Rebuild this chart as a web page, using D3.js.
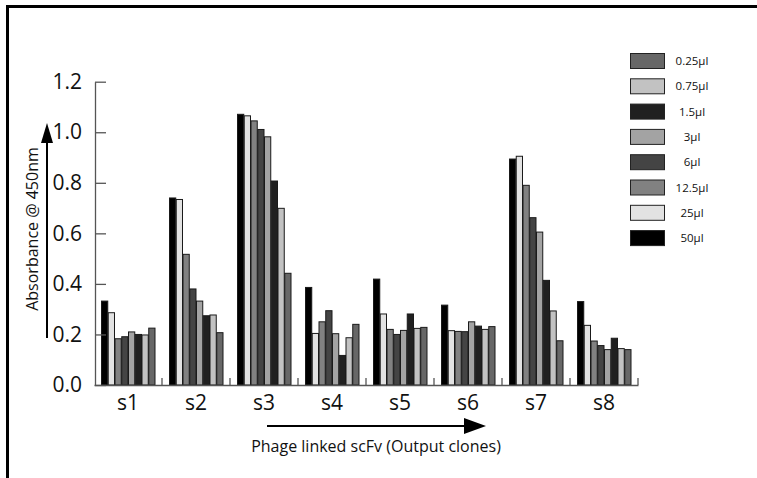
<!DOCTYPE html>
<html><head><meta charset="utf-8">
<script src="https://cdn.jsdelivr.net/npm/d3@7"></script>
<style>
body{margin:0;background:#fff;}
svg{display:block;font-family:"Open Sans","Noto Sans",sans-serif;}
</style></head>
<body>
<svg id="c" width="757" height="478"></svg>
<script>
const groups = ["s1","s2","s3","s4","s5","s6","s7","s8"];
const legendLabels = ["0.25µl","0.75µl","1.5µl","3µl","6µl","12.5µl","25µl","50µl"];
const legendColors = ["#676767","#c2c2c2","#202020","#a3a3a3","#444444","#818181","#e2e2e2","#000000"];
// values per series (s1..s8)
const v50   = [0.332,0.740,1.071,0.386,0.419,0.316,0.894,0.330];
const v25   = [0.286,0.734,1.065,0.204,0.281,0.215,0.905,0.236];
const v12_5 = [0.183,0.517,1.045,0.250,0.220,0.212,0.790,0.174];
const v6    = [0.191,0.380,1.011,0.294,0.200,0.211,0.662,0.156];
const v3    = [0.210,0.332,0.982,0.203,0.216,0.250,0.605,0.140];
const v1_5  = [0.200,0.274,0.807,0.117,0.281,0.233,0.414,0.185];
const v0_75 = [0.198,0.277,0.699,0.187,0.224,0.220,0.293,0.144];
const v0_25 = [0.225,0.207,0.442,0.240,0.228,0.231,0.175,0.140];
const yTicks = [0,0.2,0.4,0.6,0.8,1.0,1.2];

const seriesValues = {"0.25µl":v0_25,"0.75µl":v0_75,"1.5µl":v1_5,"3µl":v3,"6µl":v6,"12.5µl":v12_5,"25µl":v25,"50µl":v50};
const color = d3.scaleOrdinal(legendLabels, legendColors);
const barOrder = legendLabels.slice().reverse();

const svg = d3.select("#c");

// frame
svg.append("path").attr("d","M7.5,478 V6.5 H757").attr("fill","none").attr("stroke","#000").attr("stroke-width",3);

const y = d3.scaleLinear([0,1.2],[385,81.7]);
const x0 = d3.scaleBand(groups,[94,638]);
const x1 = d3.scaleBand(barOrder,[7,61]);

// bars
const g = svg.append("g");
groups.forEach((grp,i)=>{
  const gg = g.append("g").attr("transform",`translate(${x0(grp)},0)`);
  gg.selectAll("rect").data(barOrder.map(s=>({s,v:seriesValues[s][i]}))).join("rect")
    .attr("x",d=>x1(d.s)+0.5).attr("width",x1.bandwidth()-0.5)
    .attr("y",d=>y(d.v)).attr("height",d=>y(0)-y(d.v))
    .attr("fill",d=>color(d.s)).attr("stroke","#1a1a1a").attr("stroke-width",1);
});

// y axis
const ya = svg.append("g").attr("transform","translate(95,0)")
  .call(d3.axisLeft(y).tickValues(yTicks).tickFormat(d3.format(".1f")).tickSize(-11).tickSizeOuter(0).tickPadding(13));
ya.select(".domain").attr("stroke","#555").attr("stroke-width",1.3);
ya.selectAll(".tick line").attr("stroke","#555").attr("stroke-width",1.3);
ya.selectAll(".tick text").attr("font-size",21).attr("fill","#111").attr("font-family","Open Sans");

// x axis
const xa = svg.append("g").attr("transform","translate(0,385)")
  .call(d3.axisBottom(x0).tickSize(0).tickPadding(10));
xa.select(".domain").attr("stroke","#555").attr("stroke-width",1.3);
xa.selectAll(".tick text").attr("font-size",21).attr("fill","#111").attr("font-family","Open Sans");
svg.append("g").selectAll("line").data(groups).join("line")
  .attr("x1",d=>x0(d)+x0.bandwidth()).attr("x2",d=>x0(d)+x0.bandwidth())
  .attr("y1",385).attr("y2",378).attr("stroke","#555").attr("stroke-width",1.3);

// axis titles with arrows
svg.append("line").attr("x1",47).attr("x2",47).attr("y1",338).attr("y2",138).attr("stroke","#000").attr("stroke-width",2);
svg.append("path").attr("d","M47,123 L53,143 L41,143 Z").attr("fill","#000");
svg.append("text").attr("transform","translate(38,229) rotate(-90)").attr("text-anchor","middle")
  .attr("font-size",16).attr("fill","#111").text("Absorbance @ 450nm");

svg.append("line").attr("x1",267).attr("x2",468).attr("y1",426).attr("y2",426).attr("stroke","#000").attr("stroke-width",2);
svg.append("path").attr("d","M486,426 L464,418 L464,434 Z").attr("fill","#000");
svg.append("text").attr("x",376).attr("y",452).attr("text-anchor","middle")
  .attr("font-size",16).attr("fill","#111").text("Phage linked scFv (Output clones)");

// legend
const lg = svg.append("g");
legendLabels.forEach((lab,i)=>{
  const yy = 53.5 + i*25.3;
  lg.append("rect").attr("x",630.5).attr("y",yy).attr("width",34).attr("height",15)
    .attr("fill",color(lab)).attr("stroke","#222").attr("stroke-width",1);
  lg.append("text").attr("x",692).attr("y",yy+7.5).attr("dy","0.35em").attr("text-anchor","middle")
    .attr("font-size",11.5).attr("fill","#111").text(lab);
});
</script>
</body></html>
